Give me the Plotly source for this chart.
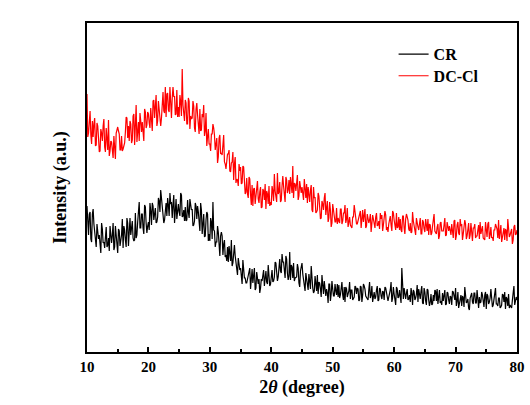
import numpy as np
import plotly.graph_objects as go

# 2-theta sampling (degrees), 0.125 deg step from 10 to 80
two_theta = np.round(np.arange(10, 80.001, 0.125), 3)

# DC-Cl intensity (a.u.) (8 samples per degree, one row per degree)
dc_cl = [
258, 215, 219, 238, 241, 217, 208, 231,
215, 228, 234, 206, 207, 229, 226, 214,
200, 201, 223, 219, 211, 226, 233, 205,
200, 224, 214, 202, 232, 196, 201, 211,
210, 201, 194, 216, 200, 193, 219, 224,
225, 221, 218, 202, 202, 216, 201, 203,
207, 209, 220, 235, 234, 214, 226, 211,
231, 228, 209, 212, 236, 238, 207, 223,
247, 210, 224, 230, 211, 239, 231, 220,
230, 218, 211, 243, 240, 224, 227, 240,
238, 229, 224, 244, 235, 221, 251, 252,
234, 245, 257, 226, 231, 251, 242, 238,
226, 234, 251, 260, 241, 239, 265, 235,
258, 259, 242, 240, 265, 236, 234, 254,
265, 255, 256, 237, 238, 262, 235, 245,
235, 257, 250, 236, 283, 247, 238, 231,
252, 249, 228, 228, 254, 251, 223, 236,
233, 234, 251, 246, 224, 220, 243, 249,
237, 221, 218, 243, 221, 222, 238, 235,
247, 216, 221, 239, 206, 215, 223, 208,
208, 201, 218, 218, 228, 224, 217, 202,
211, 214, 189, 195, 214, 217, 198, 199,
197, 212, 217, 190, 188, 183, 195, 198,
198, 202, 181, 180, 189, 190, 200, 172,
188, 195, 169, 173, 172, 166, 188, 181,
185, 168, 169, 186, 185, 166, 158, 160,
174, 158, 154, 175, 173, 157, 147, 167,
146, 163, 164, 148, 155, 167, 171, 153,
149, 160, 165, 144, 145, 163, 161, 152,
168, 143, 161, 158, 148, 166, 146, 150,
147, 166, 161, 151, 178, 161, 155, 150,
179, 158, 160, 170, 150, 152, 166, 176,
166, 156, 150, 175, 172, 159, 162, 172,
158, 175, 167, 159, 186, 154, 169, 168,
161, 169, 177, 152, 156, 171, 162, 159,
165, 154, 152, 173, 159, 154, 168, 149,
165, 152, 150, 162, 167, 142, 140, 165,
154, 155, 139, 140, 142, 159, 156, 145,
133, 134, 151, 148, 142, 154, 159, 137,
149, 151, 130, 134, 150, 142, 125, 129,
148, 142, 141, 130, 130, 144, 128, 134,
131, 129, 143, 143, 128, 131, 139, 139,
147, 129, 133, 144, 125, 131, 135, 127,
126, 124, 135, 135, 147, 140, 129, 128,
128, 131, 135, 139, 141, 124, 136, 142,
130, 136, 143, 124, 126, 138, 132, 129,
132, 138, 120, 126, 137, 133, 129, 124,
135, 139, 126, 127, 131, 123, 139, 133,
137, 121, 127, 132, 141, 137, 122, 125,
120, 128, 135, 136, 127, 121, 141, 139,
132, 124, 122, 139, 124, 125, 135, 122,
133, 122, 120, 136, 136, 124, 118, 133,
138, 135, 132, 123, 121, 129, 119, 120,
140, 131, 126, 120, 117, 134, 128, 125,
122, 130, 134, 118, 118, 132, 130, 123,
120, 133, 127, 121, 133, 117, 128, 127,
117, 119, 126, 134, 138, 121, 120, 118,
125, 128, 113, 116, 129, 130, 121, 121,
121, 127, 134, 116, 117, 130, 123, 121,
126, 120, 117, 128, 123, 114, 131, 132,
112, 116, 127, 130, 119, 117, 133, 126,
128, 112, 118, 123, 132, 128, 113, 116,
126, 129, 113, 117, 129, 114, 111, 124,
124, 128, 114, 116, 116, 122, 127, 113,
130, 118, 124, 126, 114, 112, 112, 130,
116, 115, 128, 130, 113, 117, 125, 114,
115, 111, 122, 122, 128, 126, 123, 114,
132, 113, 118, 127, 110, 115, 121, 124,
112, 123, 121, 111, 133, 126, 115, 117,
120, 123, 108, 112, 125, 127, 117, 118,
122,
]

# CR intensity (a.u.) (8 samples per degree, one row per degree)
cr = [
146, 127, 117, 138, 140, 113, 110, 138,
143, 128, 119, 108, 105, 128, 121, 113,
117, 108, 99, 129, 123, 109, 110, 104,
118, 125, 105, 107, 114, 101, 126, 117,
109, 117, 129, 102, 105, 126, 114, 111,
99, 123, 121, 106, 111, 117, 133, 104,
126, 122, 112, 105, 134, 129, 106, 117,
134, 117, 127, 131, 114, 111, 112, 139,
114, 117, 130, 140, 150, 124, 124, 138,
138, 124, 118, 147, 145, 129, 119, 126,
130, 122, 149, 141, 127, 149, 146, 132,
143, 144, 129, 130, 135, 154, 151, 140,
162, 154, 141, 137, 129, 132, 148, 149,
136, 154, 147, 136, 159, 148, 150, 134,
147, 157, 129, 138, 153, 133, 140, 148,
140, 136, 159, 157, 135, 136, 142, 131,
145, 131, 132, 152, 140, 134, 153, 146,
142, 143, 126, 127, 131, 149, 146, 133,
146, 140, 130, 121, 149, 142, 118, 127,
138, 115, 116, 132, 140, 138, 111, 118,
111, 134, 130, 113, 150, 122, 121, 105,
110, 110, 126, 120, 100, 96, 116, 120,
116, 97, 108, 112, 95, 97, 91, 105,
90, 106, 99, 91, 112, 86, 89, 97,
107, 96, 89, 80, 77, 94, 88, 82,
84, 76, 68, 92, 86, 74, 74, 69,
69, 72, 76, 81, 84, 63, 76, 83,
69, 75, 84, 62, 64, 80, 71, 68,
73, 59, 64, 73, 71, 79, 82, 66,
80, 81, 70, 68, 87, 77, 66, 68,
80, 82, 70, 71, 75, 90, 89, 80,
71, 75, 89, 93, 81, 79, 98, 90,
90, 78, 74, 96, 93, 79, 72, 76,
100, 72, 87, 85, 74, 89, 71, 74,
75, 75, 88, 84, 69, 65, 81, 85,
89, 78, 72, 63, 61, 79, 74, 68,
62, 78, 72, 63, 86, 70, 64, 59,
61, 76, 69, 61, 77, 58, 70, 69,
63, 55, 77, 67, 58, 71, 64, 56,
63, 59, 49, 68, 68, 51, 58, 71,
63, 56, 56, 68, 61, 57, 68, 55,
67, 54, 57, 68, 70, 57, 52, 65,
50, 65, 63, 55, 57, 61, 70, 53,
62, 62, 52, 53, 55, 66, 65, 58,
64, 63, 51, 52, 66, 65, 50, 57,
68, 66, 63, 56, 54, 53, 52, 62,
70, 54, 57, 66, 50, 55, 60, 53,
55, 62, 66, 51, 52, 64, 63, 56,
53, 61, 60, 52, 65, 64, 60, 56,
51, 55, 59, 62, 70, 50, 54, 65,
58, 51, 47, 65, 63, 54, 55, 62,
55, 49, 84, 59, 53, 64, 58, 53,
59, 63, 52, 53, 57, 50, 64, 59,
47, 62, 60, 52, 54, 58, 67, 50,
63, 54, 53, 61, 66, 49, 48, 64,
60, 51, 47, 63, 62, 52, 46, 50,
58, 47, 48, 57, 51, 62, 61, 51,
63, 48, 58, 62, 49, 51, 47, 59,
51, 58, 62, 47, 48, 60, 59, 52,
48, 56, 55, 47, 61, 60, 56, 52,
64, 46, 51, 60, 44, 49, 54, 57,
46, 56, 54, 45, 65, 58, 49, 50,
53, 44, 42, 54, 58, 59, 50, 48,
59, 59, 49, 49, 62, 46, 44, 55,
49, 50, 60, 57, 46, 45, 57, 60,
43, 58, 56, 48, 50, 54, 63, 46,
45, 47, 53, 59, 64, 48, 48, 46,
54, 54, 44, 45, 47, 58, 57, 50,
60, 43, 55, 53, 46, 58, 44, 47,
45, 44, 52, 58, 66, 47, 53, 55,
52,
]

x_ticks = [10, 20, 30, 40, 50, 60, 70, 80]

FONT = "Liberation Serif"

fig = go.Figure()
fig.add_trace(go.Scatter(x=two_theta, y=cr, mode="lines", name="<b>CR</b>",
                         legend="legend",
                         line=dict(color="black", width=1.2)))
fig.add_trace(go.Scatter(x=two_theta, y=dc_cl, mode="lines", name="<b>DC-Cl</b>",
                         legend="legend2",
                         line=dict(color="#ff0000", width=1.2)))

leg_common = dict(xanchor="left", yanchor="top",
                  bgcolor="rgba(0,0,0,0)", borderwidth=0,
                  font=dict(family=FONT, size=16, color="black"))

fig.update_layout(
    width=530, height=405,
    margin=dict(l=87, r=13, t=23, b=53, autoexpand=False),
    paper_bgcolor="white", plot_bgcolor="white",
    font=dict(family=FONT, color="black"),
    showlegend=True,
    legend=dict(x=0.713, y=0.957, **leg_common),
    legend2=dict(x=0.713, y=0.891, **leg_common),
    xaxis=dict(range=[10, 80], tickvals=x_ticks,
               ticktext=["<b>%d</b>" % v for v in x_ticks],
               ticks="inside", ticklen=5, tickwidth=1.5, tickcolor="black",
               minor=dict(dtick=5, tick0=0, ticks="inside", ticklen=3, tickwidth=1.5, tickcolor="black"),
               showline=True, linecolor="black", linewidth=2, mirror=True,
               showgrid=False, zeroline=False, automargin=False,
               tickfont=dict(family=FONT, size=15, color="black"),
               title=dict(text="<b>2<i>θ</i> (degree)</b>", standoff=6,
                          font=dict(family=FONT, size=18, color="black"))),
    yaxis=dict(range=[0, 329], showticklabels=False, ticks="",
               showline=True, linecolor="black", linewidth=2, mirror=True,
               showgrid=False, zeroline=False, automargin=False,
               title=dict(text="<b>Intensity (a.u.)</b>", standoff=14,
                          font=dict(family=FONT, size=18, color="black"))),
)

fig.write_html("out.html")
